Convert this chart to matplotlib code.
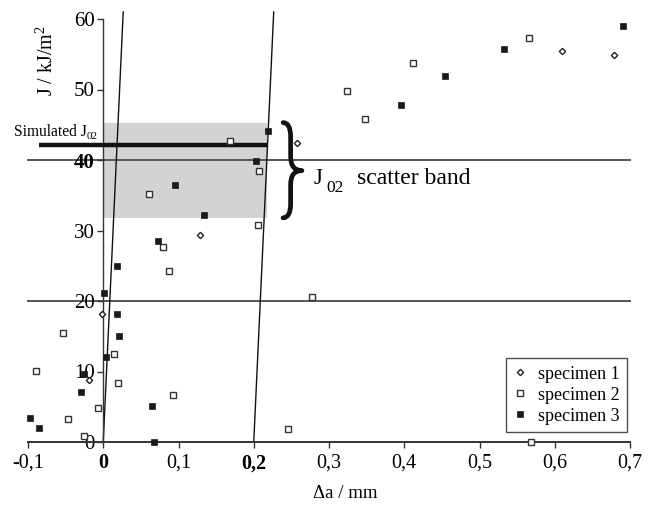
import matplotlib
matplotlib.use("Agg")
import matplotlib.pyplot as plt
from matplotlib.path import Path
from matplotlib.patches import PathPatch

plt.rcParams['font.family'] = ['Liberation Serif', 'DejaVu Serif']
plt.rcParams['mathtext.fontset'] = 'custom'
plt.rcParams['mathtext.rm'] = 'Liberation Serif'

# ---------------- data ----------------
spec1_da = [-0.002, -0.019, 0.128, 0.258, 0.610, 0.679]
spec1_J = [18.1, 8.8, 29.4, 42.4, 55.5, 54.9]

spec2_da = [-0.053, 0.014, -0.090, 0.019, -0.007, -0.047, -0.026, 0.207, 0.061,
            0.205, 0.079, 0.088, 0.169, 0.093, 0.246, 0.277, 0.324, 0.348,
            0.411, 0.566, 0.568]
spec2_J = [15.4, 12.5, 10.1, 8.4, 4.8, 3.3, 0.9, 38.5, 35.2,
           30.8, 27.7, 24.3, 42.7, 6.6, 1.8, 20.6, 49.8, 45.8,
           53.8, 57.3, 0.0]

spec3_da = [0.001, 0.018, 0.021, 0.004, -0.025, -0.030, 0.065, -0.097, -0.086,
            0.067, 0.203, 0.095, 0.134, 0.073, 0.018, 0.219, 0.396, 0.454,
            0.533, 0.691]
spec3_J = [21.1, 18.1, 15.0, 12.1, 9.6, 7.1, 5.1, 3.4, 2.0,
           0.0, 39.9, 36.4, 32.2, 28.5, 25.0, 44.1, 47.8, 51.9,
           55.8, 59.0]

blunting_offsets = [0.0, 0.2]      # mm, blunting line + 0.2 mm offset line
blunting_slope = 2300.0            # kJ/m^2 per mm
hlines_J = [20, 40]
band_da = [0.0, 0.218]
band_J = [31.8, 45.3]
sim_J02 = 42.1
sim_da = [-0.086, 0.218]

xticks = [-0.1, 0.0, 0.1, 0.2, 0.3, 0.4, 0.5, 0.6, 0.7]
xticklabels = ['-0,1', '0', '0,1', '0,2', '0,3', '0,4', '0,5', '0,6', '0,7']
yticks = [0, 10, 20, 30, 40, 50, 60]

# ---------------- plot ----------------
fig = plt.figure(figsize=(6.54, 5.08), dpi=100)
ax = fig.add_axes([28 / 654, 66 / 508, 602 / 654, 423 / 508])
ax.set_xlim(-0.1, 0.7)
ax.set_ylim(0, 60)

# scatter band + simulated value
ax.fill_between(band_da, band_J[0], band_J[1], color='#d3d3d5', lw=0, zorder=0.5)
for yj in hlines_J:
    ax.plot([-0.1, 0.7], [yj, yj], color='#555555', lw=1.4, zorder=1, clip_on=False)
ax.plot(sim_da, [sim_J02, sim_J02], color='#111111', lw=3.2, solid_capstyle='butt',
        zorder=3, clip_on=False)

# blunting lines
for off in blunting_offsets:
    ax.plot([off, off + 61 / blunting_slope], [0, 61], color='#111111', lw=1.0,
            zorder=2, clip_on=False)

# data
ax.plot(spec1_da, spec1_J, ls='none', marker='D', ms=3.2, mfc='white', mec='#222222',
        mew=1.0, label='specimen 1', zorder=4, clip_on=False)
ax.plot(spec2_da, spec2_J, ls='none', marker='s', ms=4.0, mfc='white', mec='#333333',
        mew=1.0, label='specimen 2', zorder=4, clip_on=False)
ax.plot(spec3_da, spec3_J, ls='none', marker='s', ms=4.6, mfc='#1a1a1a', mec='#1a1a1a',
        mew=0.5, label='specimen 3', zorder=4, clip_on=False)

# axes styling
for s in ['top', 'right']:
    ax.spines[s].set_visible(False)
ax.spines['left'].set_position(('data', 0))
ax.spines['left'].set_color('#333333')
ax.spines['bottom'].set_color('#333333')
ax.spines['left'].set_linewidth(1.0)
ax.spines['bottom'].set_linewidth(1.4)
ax.set_xticks(xticks)
ax.set_xticklabels(xticklabels, fontsize=14.5)
ax.set_yticks(yticks)
ax.set_yticklabels([str(v) for v in yticks], fontsize=15)
ax.tick_params(axis='both', direction='out', length=4, width=1, color='#333333')
ax.tick_params(axis='x', pad=4)
ax.tick_params(axis='y', pad=2)
for lab in ax.get_xticklabels():
    if lab.get_text() in ('0', '0,2'):
        lab.set_fontweight('bold')
for lab in ax.get_yticklabels():
    if lab.get_text() == '40':
        lab.set_fontweight('bold')

fig.text(47 / 654, 1 - 60 / 508, 'J / kJ/m$^2$', rotation=90, ha='center',
         va='center', fontsize=14.5)
fig.text(345 / 654, 1 - 493 / 508, 'Δa / mm', ha='center', va='center', fontsize=13.5)

# simulated J02 label
fig.text(14 / 654, 1 - 136 / 508, 'Simulated J', fontsize=11.2, ha='left', va='baseline')
fig.text(87 / 654, 1 - 139 / 508, '02', fontsize=8, ha='left', va='baseline')

# curly brace for scatter band
x_tip, x_stem, x_pt = 0.239, 0.249, 0.264
y_top, y_mid, y_bot = 45.3, 38.5, 31.8
verts = [(x_tip, y_top), (x_stem, y_top), (x_stem, y_top - 2.0),
         (x_stem, y_mid + 2.0), (x_stem, y_mid), (x_pt, y_mid),
         (x_stem, y_mid), (x_stem, y_mid - 2.0),
         (x_stem, y_bot + 2.0), (x_stem, y_bot), (x_tip, y_bot)]
codes = [Path.MOVETO, Path.CURVE3, Path.CURVE3,
         Path.LINETO, Path.CURVE3, Path.CURVE3,
         Path.CURVE3, Path.CURVE3,
         Path.LINETO, Path.CURVE3, Path.CURVE3]
ax.add_patch(PathPatch(Path(verts, codes), fill=False, lw=3.4, ec='#111111',
                       capstyle='round', joinstyle='round', zorder=5, clip_on=False))

fig.text(314 / 654, 1 - 184 / 508, 'J', fontsize=16.5, ha='left', va='baseline')
fig.text(326 / 654, 1 - 192 / 508, '02', fontsize=12.5, ha='left', va='baseline')
fig.text(357 / 654, 1 - 184 / 508, 'scatter band', fontsize=17, ha='left', va='baseline')

leg = ax.legend(loc='lower right', bbox_to_anchor=(0.995, 0.024), borderaxespad=0,
                fontsize=13, frameon=True, fancybox=False, edgecolor='#222222',
                handlelength=0.8, handletextpad=0.6, labelspacing=0.22,
                borderpad=0.4, markerscale=1.0)
leg.get_frame().set_linewidth(1.0)

fig.savefig('out.png', dpi=100)
